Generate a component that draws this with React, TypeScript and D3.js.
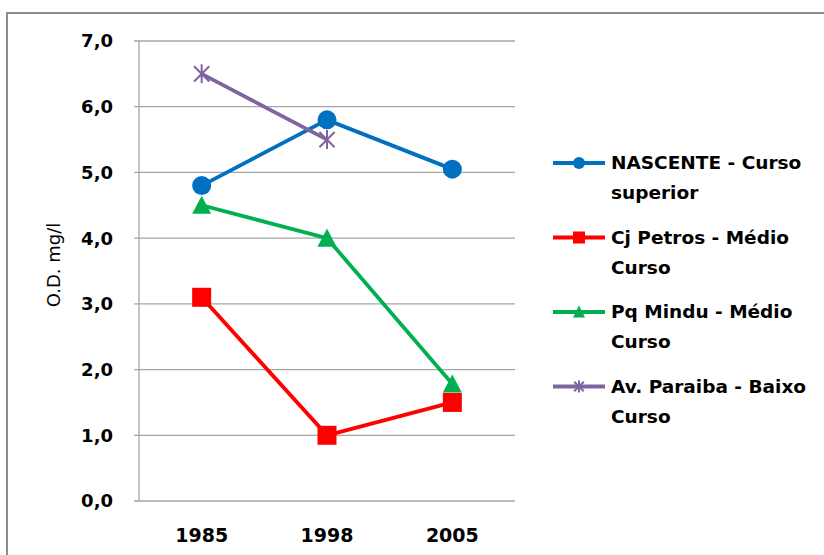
import React from "react";
import * as d3 from "d3";

const categories = ["1985", "1998", "2005"];
const yTicks = [0, 1, 2, 3, 4, 5, 6, 7];
const nascente = [4.8, 5.8, 5.05];
const cjPetros = [3.1, 1.0, 1.5];
const pqMindu = [4.5, 4.0, 1.78];
const avParaiba = [6.5, 5.5, null];

const seriesNames = [
  ["NASCENTE - Curso", "superior"],
  ["Cj Petros - Médio", "Curso"],
  ["Pq Mindu - Médio", "Curso"],
  ["Av. Paraiba - Baixo", "Curso"],
];

type Series = { name: string[]; values: (number | null)[]; color: string; marker: string };

const series: Series[] = [
  { name: seriesNames[0], values: nascente, color: "#0070C0", marker: "circle" },
  { name: seriesNames[1], values: cjPetros, color: "#FF0000", marker: "square" },
  { name: seriesNames[2], values: pqMindu, color: "#00B050", marker: "triangle" },
  { name: seriesNames[3], values: avParaiba, color: "#8064A2", marker: "star" },
];

const W = 824;
const H = 555;
const left = 139;
const right = 515;
const top = 41;
const bottom = 501;
const font = "'DejaVu Sans', sans-serif";

function Marker({ type, x, y, color, s }: { type: string; x: number; y: number; color: string; s: number }) {
  if (type === "circle") return <circle cx={x} cy={y} r={s / 2} fill={color} />;
  if (type === "square") return <rect x={x - s / 2} y={y - s / 2} width={s} height={s} fill={color} />;
  if (type === "triangle") {
    const h = s * 0.9;
    return (
      <path
        d={`M${x},${y - h / 2 - 1} L${x + s / 2},${y + h / 2} L${x - s / 2},${y + h / 2} Z`}
        fill={color}
      />
    );
  }
  const r = s / 2;
  const d = r * 0.8;
  return (
    <path
      d={`M${x - d},${y - d} L${x + d},${y + d} M${x + d},${y - d} L${x - d},${y + d} M${x},${y - r} L${x},${y + r}`}
      stroke={color}
      strokeWidth={2}
      fill="none"
    />
  );
}

export default function App() {
  const x = d3.scaleBand<string>().domain(categories).range([left, right]);
  const y = d3.scaleLinear().domain([0, 7]).range([bottom, top]);
  const cx = (c: string) => (x(c) as number) + x.bandwidth() / 2;
  const line = d3
    .line<number | null>()
    .defined((d) => d !== null)
    .x((_, i) => cx(categories[i]))
    .y((d) => y(d as number));

  const drawOrder = [2, 1, 0, 3];

  return (
    <svg
      width={W}
      height={H}
      style={{ position: "absolute", left: 0, top: 0, background: "#fff" }}
      fontFamily={font}
    >
      <rect x={7} y={13} width={840} height={600} fill="#fff" stroke="#8c8c8c" strokeWidth={2} />
      {yTicks.map((t) => (
        <g key={t}>
          <line x1={left - 5} x2={right} y1={y(t)} y2={y(t)} stroke="#a6a6a6" strokeWidth={1.3} />
          <text
            x={113}
            y={y(t)}
            dy="0.36em"
            textAnchor="end"
            fontSize={18}
            fontWeight="bold"
            fill="#000"
          >
            {t.toFixed(1).replace(".", ",")}
          </text>
        </g>
      ))}
      <line x1={left} x2={left} y1={top} y2={bottom} stroke="#a6a6a6" strokeWidth={1.3} />
      {categories.map((c) => (
        <text key={c} x={cx(c)} y={542} textAnchor="middle" fontSize={19} fontWeight="bold" fill="#000">
          {c}
        </text>
      ))}
      <text
        transform={`translate(60,265) rotate(-90)`}
        textAnchor="middle"
        fontSize={18}
        fill="#000"
      >
        O.D. mg/l
      </text>
      {series.map((s) => (
        <path key={s.color} d={line(s.values) || ""} stroke={s.color} strokeWidth={3.8} fill="none" />
      ))}
      {drawOrder.map((k) => {
        const s = series[k];
        return (
          <g key={s.color}>
            {s.values.map((v, i) =>
              v === null ? null : (
                <Marker key={i} type={s.marker} x={cx(categories[i])} y={y(v)} color={s.color} s={s.marker === "circle" ? 19 : s.marker === "star" ? 19 : 19} />
              )
            )}
          </g>
        );
      })}
      {series.map((s, i) => {
        const ly = 163 + i * 74.5;
        return (
          <g key={s.color}>
            <line x1={553} x2={605} y1={ly} y2={ly} stroke={s.color} strokeWidth={3.8} />
            <Marker type={s.marker} x={579} y={ly} color={s.color} s={12} />
            <text x={611} y={ly + 6} fontSize={18.5} fontWeight="bold" fill="#000">
              {s.name[0]}
            </text>
            <text x={611} y={ly + 36} fontSize={18.5} fontWeight="bold" fill="#000">
              {s.name[1]}
            </text>
          </g>
        );
      })}
    </svg>
  );
}
